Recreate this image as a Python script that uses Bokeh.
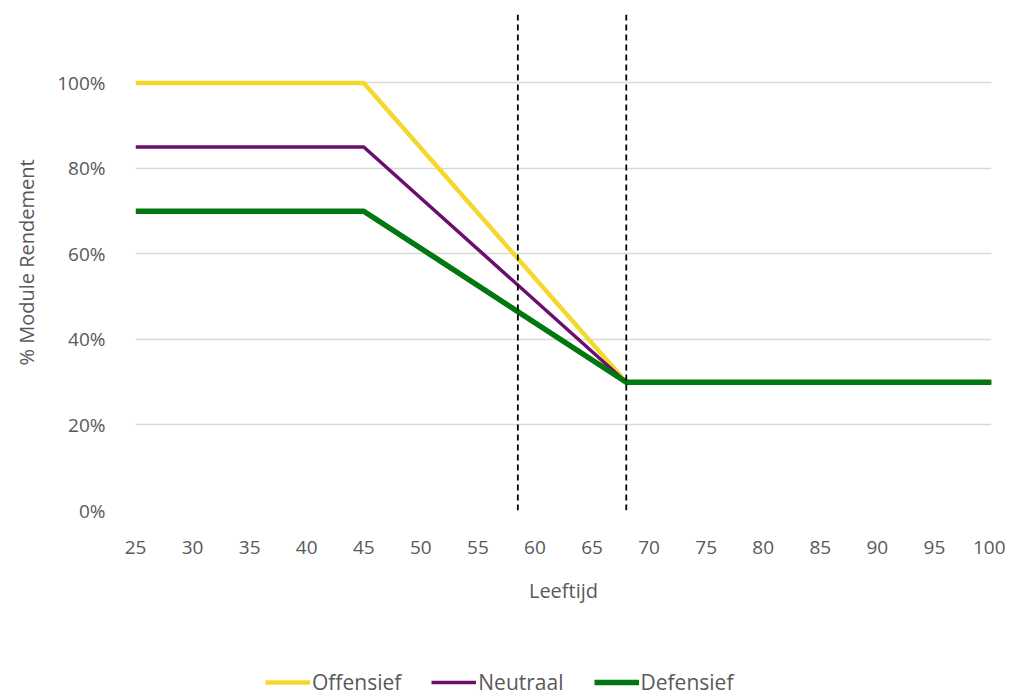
from bokeh.plotting import figure
from bokeh.layouts import column
from bokeh.models import Span, Legend, LegendItem, FixedTicker, NumeralTickFormatter, Range1d
from bokeh.embed import file_html
from bokeh.resources import INLINE

ages = [25, 45, 68, 100]
offensief = [1.00, 1.00, 0.30, 0.30]
neutraal = [0.85, 0.85, 0.30, 0.30]
defensief = [0.70, 0.70, 0.30, 0.30]
marker_ages = [58.5, 68]
x_ticks = list(range(25, 101, 5))
y_ticks = [0, 0.2, 0.4, 0.6, 0.8, 1.0]
series_names = ["Offensief", "Neutraal", "Defensief"]
series_colors = ["#F5D82E", "#6B0F6E", "#00780F"]
series_widths = [4.5, 3.5, 5.5]

FONT = "Open Sans"
GREY = "#595959"

p = figure(frame_width=856, frame_height=496, output_backend="svg", toolbar_location=None,
           x_range=Range1d(25, 100), y_range=Range1d(0, 1.16),
           min_border_left=135, min_border_right=14, min_border_top=14, min_border_bottom=0)
p.outline_line_color = None
p.background_fill_color = "white"

p.xgrid.grid_line_color = None
p.ygrid.grid_line_color = "#d9d9d9"
p.ygrid.grid_line_width = 1.5

p.yaxis.ticker = FixedTicker(ticks=y_ticks)
p.xaxis.ticker = FixedTicker(ticks=x_ticks)
p.yaxis.formatter = NumeralTickFormatter(format="0%")
for ax in (p.xaxis, p.yaxis):
    ax.axis_line_color = None
    ax.major_tick_line_color = None
    ax.minor_tick_line_color = None
    ax.major_label_text_font = FONT
    ax.major_label_text_font_size = "19px"
    ax.major_label_text_color = GREY
    ax.axis_label_text_font = FONT
    ax.axis_label_text_font_size = "20px"
    ax.axis_label_text_color = GREY
    ax.axis_label_text_font_style = "normal"
p.xaxis.axis_label = "Leeftijd"
p.yaxis.axis_label = "% Module Rendement"
p.xaxis.major_label_standoff = 24
p.yaxis.major_label_standoff = 24
p.xaxis.axis_label_standoff = 20
p.yaxis.axis_label_standoff = 14

for a in marker_ages:
    p.add_layout(Span(location=a, dimension="height", line_color="black",
                      line_dash="6 4", line_width=1.8))

all_series = [offensief, neutraal, defensief]
for ys, c, w in zip(all_series, series_colors, series_widths):
    p.line(ages, ys, line_color=c, line_width=w)

# legend strip below the chart (its lines lie outside its own range, only the key shows)
lf = figure(frame_width=856, frame_height=90, output_backend="svg", toolbar_location=None,
            x_range=Range1d(0, 1), y_range=Range1d(0, 1),
            min_border_left=135, min_border_right=14, min_border_top=0, min_border_bottom=0)
lf.axis.visible = False
lf.grid.visible = False
lf.outline_line_color = None
items = []
for name, ys, c, w in zip(series_names, all_series, series_colors, series_widths):
    r = lf.line(ages, ys, line_color=c, line_width=w)
    items.append(LegendItem(label=name, renderers=[r]))
legend = Legend(items=items, orientation="horizontal", location=(130, 0),
                label_text_font=FONT, label_text_font_size="21px", label_text_color=GREY,
                border_line_color=None, background_fill_alpha=0,
                glyph_width=45, spacing=30, label_standoff=2,
                margin=0, padding=0)
lf.add_layout(legend, "center")

open("out.html", "w").write(file_html(column(p, lf, spacing=0), INLINE))
